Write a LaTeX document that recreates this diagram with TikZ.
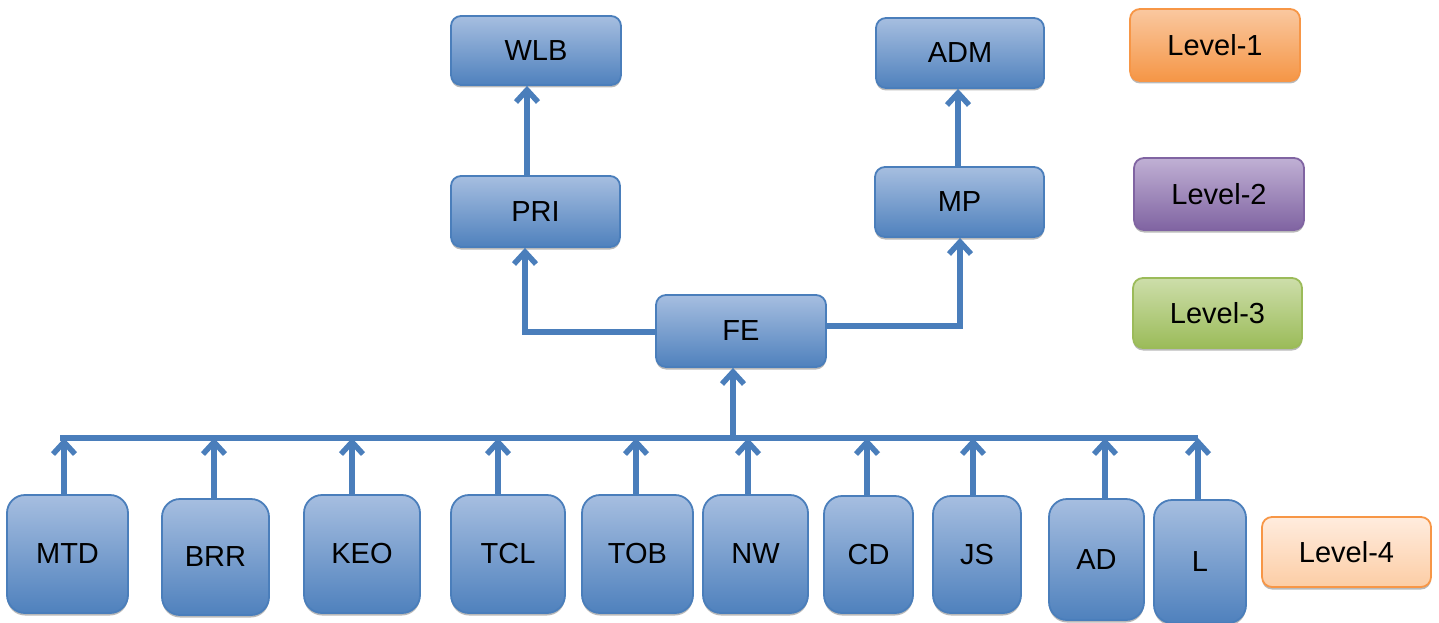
\documentclass[tikz,border=0pt]{standalone}
\usepackage{fontspec}
\setmainfont{Liberation Sans}
\usetikzlibrary{arrows.meta,shadows,calc}
\definecolor{bluetop}{RGB}{166,190,224}
\definecolor{bluebot}{RGB}{79,129,189}
\definecolor{blueline}{RGB}{74,126,187}
\definecolor{orgtop}{RGB}{250,200,160}
\definecolor{orgbot}{RGB}{245,150,70}
\definecolor{orgline}{RGB}{247,150,70}
\definecolor{purtop}{RGB}{192,176,212}
\definecolor{purbot}{RGB}{128,100,162}
\definecolor{purline}{RGB}{128,100,162}
\definecolor{grntop}{RGB}{205,222,170}
\definecolor{grnbot}{RGB}{155,187,89}
\definecolor{grnline}{RGB}{155,187,89}
\definecolor{peachtop}{RGB}{255,236,222}
\definecolor{peachbot}{RGB}{252,205,165}
\begin{document}
\begin{tikzpicture}[x=1pt,y=-1pt,
  box/.style={rounded corners=10pt, draw=blueline, line width=1.8pt,
    top color=bluetop, bottom color=bluebot, inner sep=0pt,
    font=\fontsize{29}{33}\selectfont,
    drop shadow={shadow xshift=0pt, shadow yshift=-2.5pt, opacity=0.55}},
  bigbox/.style={box, rounded corners=18pt},
  lvl1/.style={box, draw=orgline, top color=orgtop, bottom color=orgbot},
  lvl2/.style={box, draw=purline, top color=purtop, bottom color=purbot},
  lvl3/.style={box, draw=grnline, top color=grntop, bottom color=grnbot},
  lvl4/.style={box, draw=orgline, top color=peachtop, bottom color=peachbot},
  conn/.style={draw=blueline, line width=5.5pt},
  arr/.style={conn, -{Straight Barb[length=12pt,width=22pt]}}
]
\useasboundingbox (0,0) rectangle (1439,623);

% upper nodes
\node[box, minimum width=170pt, minimum height=69pt] (WLB) at (536,50.5) {WLB};
\node[box, minimum width=169pt, minimum height=71pt] (PRI) at (535.5,211.5) {PRI};
\node[box, minimum width=168pt, minimum height=70pt] (ADM) at (960,53) {ADM};
\node[box, minimum width=169pt, minimum height=70pt] (MP) at (959.5,202) {MP};
\node[box, minimum width=170pt, minimum height=72pt] (FE) at (741,331) {FE};

% legend
\node[lvl1, minimum width=170pt, minimum height=72pt] (L1) at (1215,45) {Level-1};
\node[lvl2, minimum width=170pt, minimum height=72pt] (L2) at (1219,194) {Level-2};
\node[lvl3, minimum width=169pt, minimum height=70pt] (L3) at (1217.5,313) {Level-3};
\node[lvl4, minimum width=169pt, minimum height=70pt] (L4) at (1346.5,552) {Level-4};

% bottom nodes
\node[bigbox, minimum width=121pt, minimum height=118pt] (MTD) at (67.5,554) {MTD};
\node[bigbox, minimum width=107pt, minimum height=116pt] (BRR) at (215.5,557) {BRR};
\node[bigbox, minimum width=116pt, minimum height=118pt] (KEO) at (362,554) {KEO};
\node[bigbox, minimum width=114pt, minimum height=118pt] (TCL) at (508,554) {TCL};
\node[bigbox, minimum width=111pt, minimum height=118pt] (TOB) at (637.5,554) {TOB};
\node[bigbox, minimum width=105pt, minimum height=118pt] (NW) at (755.5,554) {NW};
\node[bigbox, minimum width=89pt, minimum height=117pt] (CD) at (868.5,554.5) {CD};
\node[bigbox, minimum width=88pt, minimum height=117pt] (JS) at (977,554.5) {JS};
\node[bigbox, minimum width=95pt, minimum height=121pt] (AD) at (1096.5,559.5) {AD};
\node[bigbox, minimum width=92pt, minimum height=123pt] (L) at (1200,561.5) {L};

% bus
\coordinate (busL) at (60,438);
\coordinate (busR) at (1198,438);
\draw[conn] (busL) -- (busR);

\foreach \n/\x in {MTD/64,BRR/214,KEO/352,TCL/498,TOB/636,NW/748,CD/867,JS/973,AD/1105,L/1198}{
  \coordinate (t\n) at (\x,438);
  \draw[arr] (\n.north -| t\n) -- (t\n);
}

% bus to FE
\coordinate (feb) at (733,438);
\draw[arr] (feb) -- (feb |- FE.south);

% FE to PRI and MP
\coordinate (pc) at (525,332);
\draw[arr] (FE.west |- pc) -- (pc) -- (pc |- PRI.south);
\coordinate (mc) at (960,326);
\draw[arr] (FE.east |- mc) -- (mc) -- (mc |- MP.south);

% level 2 to level 1
\coordinate (wc) at (527,130);
\draw[arr] (wc |- PRI.north) -- (wc |- WLB.south);
\coordinate (ac) at (958,130);
\draw[arr] (ac |- MP.north) -- (ac |- ADM.south);
\end{tikzpicture}
\end{document}
